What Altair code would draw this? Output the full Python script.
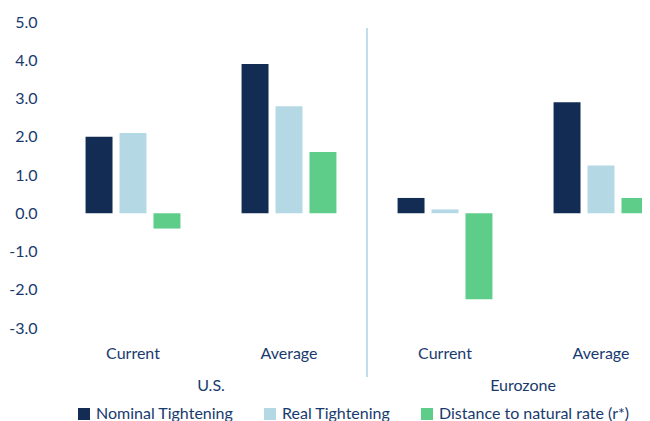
import altair as alt
import pandas as pd

groups = ["U.S.|Current", "U.S.|Average", "Eurozone|Current", "Eurozone|Average"]
series = ["Nominal Tightening", "Real Tightening", "Distance to natural rate (r*)"]
nominal = [2.0, 3.9, 0.4, 2.9]
real = [2.1, 2.8, 0.1, 1.25]
distance = [-0.4, 1.6, -2.25, 0.4]
colors = ["#132c54", "#b5d9e4", "#5fcd8a"]
regions = ["U.S.", "Eurozone"]
region_anchor = ["U.S.|Current", "Eurozone|Current"]

rows = []
for i, g in enumerate(groups):
    for s, vals in zip(series, [nominal, real, distance]):
        rows.append({"grp": g, "series": s, "value": vals[i]})
df = pd.DataFrame(rows)

FONT = "Lato"
TXT = "#183a6e"
FS = 16

xscale = alt.Scale(domain=groups, range=[0, 624], paddingInner=0, paddingOuter=0)

bars = alt.Chart(df).mark_bar().encode(
    x=alt.X("grp:N", scale=xscale, sort=groups,
            axis=alt.Axis(title=None, domain=False, ticks=False, labelAngle=0,
                          labelExpr="split(datum.label, '|')[1]",
                          labelPadding=17, labelFontSize=FS, labelColor=TXT,
                          labelFont=FONT)),
    xOffset=alt.XOffset("series:N", sort=series,
                        scale=alt.Scale(domain=series, paddingInner=0.206, paddingOuter=0.9)),
    y=alt.Y("value:Q", scale=alt.Scale(domain=[-3, 5], nice=False, zero=True),
            axis=alt.Axis(title=None, values=[-3, -2, -1, 0, 1, 2, 3, 4, 5],
                          labelExpr="(datum.value < 0 ? '-' : '') + format(abs(datum.value), '.1f')",
                          grid=False, domain=False, ticks=False, labelPadding=18,
                          labelFontSize=FS, labelColor=TXT, labelFont=FONT)),
    color=alt.Color("series:N", sort=series,
                    scale=alt.Scale(domain=series, range=colors),
                    legend=alt.Legend(title=None, orient="none", legendX=21, legendY=384,
                                      direction="horizontal", symbolType="square",
                                      symbolSize=144, symbolStrokeWidth=0,
                                      labelFontSize=FS, labelColor=TXT, labelFont=FONT,
                                      labelLimit=400, columnPadding=28, labelOffset=4)),
)

sep_df = pd.DataFrame({"grp": ["Eurozone|Current"]})
sep = alt.Chart(sep_df).mark_rule(color="#a9d3e6", strokeWidth=1.5).encode(
    x=alt.X("grp:N", bandPosition=0, scale=xscale, sort=groups),
    y=alt.value(6),
    y2=alt.value(355),
)

reg_df = pd.DataFrame({"grp": region_anchor, "label": regions})
reg = alt.Chart(reg_df).mark_text(fontSize=FS, color=TXT, font=FONT, baseline="middle").encode(
    x=alt.X("grp:N", bandPosition=1, scale=xscale, sort=groups),
    y=alt.value(364),
    text="label:N",
)

chart = alt.layer(bars, sep, reg).properties(
    width=587, height=306,
    autosize=alt.AutoSizeParams(type="none"),
    padding={"left": 47, "top": 14, "right": 0, "bottom": 93},
).configure_view(stroke=None)

chart.save("out.html", embed_options={"renderer": "svg", "actions": False})
